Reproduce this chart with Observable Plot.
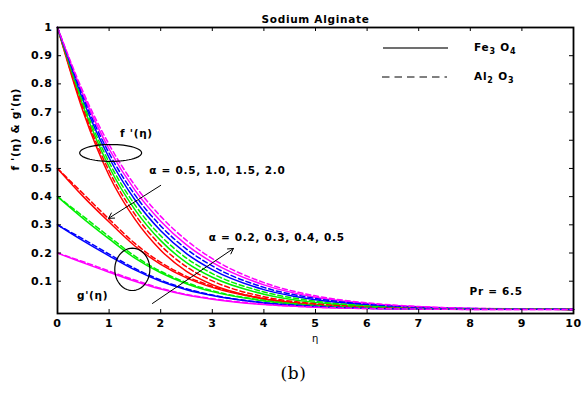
<!DOCTYPE html>
<html><head><meta charset="utf-8">
<script src="https://cdn.jsdelivr.net/npm/d3@7"></script>
<script src="https://cdn.jsdelivr.net/npm/@observablehq/plot@0.6"></script>
<style>
html,body{margin:0;padding:0;background:#fff;}
#wrap{position:relative;width:582px;height:394px;overflow:hidden;}
#overlay{position:absolute;left:0;top:0;width:582px;height:394px;pointer-events:none;}
.lg{position:absolute;font:bold 10.5px "DejaVu Sans",sans-serif;letter-spacing:0.8px;color:#000;white-space:nowrap;line-height:12px}
.lg sub{font-size:8px;vertical-align:-3px;line-height:0}
</style></head><body><div id="wrap"></div>
<script>
// η grid
const eta = [0, 0.5, 1, 1.5, 2, 2.5, 3, 4, 5, 6, 7, 8, 10];

// f'(η): solid = Fe3O4, dashed = Al2O3
const fRedFe = [1, 0.700, 0.475, 0.320, 0.210, 0.135, 0.088, 0.037, 0.015, 0.006, 0.002, 0.001, 0];
const fRedAl = [1, 0.710, 0.491, 0.337, 0.227, 0.151, 0.101, 0.045, 0.020, 0.008, 0.003, 0.001, 0];
const fGrnFe = [1, 0.720, 0.506, 0.354, 0.244, 0.166, 0.114, 0.054, 0.024, 0.011, 0.004, 0.002, 0];
const fGrnAl = [1, 0.730, 0.522, 0.371, 0.261, 0.182, 0.127, 0.062, 0.029, 0.013, 0.005, 0.002, 0];
const fBluFe = [1, 0.740, 0.538, 0.389, 0.279, 0.198, 0.141, 0.070, 0.034, 0.016, 0.006, 0.002, 0];
const fBluAl = [1, 0.750, 0.554, 0.406, 0.296, 0.214, 0.154, 0.078, 0.039, 0.018, 0.007, 0.003, 0];
const fMagFe = [1, 0.760, 0.569, 0.423, 0.313, 0.229, 0.167, 0.087, 0.043, 0.021, 0.009, 0.003, 0];
const fMagAl = [1, 0.770, 0.585, 0.440, 0.330, 0.245, 0.180, 0.095, 0.048, 0.023, 0.010, 0.004, 0];

// g'(η)
const gRedFe = [0.5, 0.400, 0.310, 0.225, 0.160, 0.112, 0.078, 0.037, 0.016, 0.007, 0.003, 0.001, 0];
const gRedAl = [0.5, 0.410, 0.320, 0.234, 0.167, 0.117, 0.082, 0.039, 0.017, 0.007, 0.003, 0.001, 0];
const gGrnFe = [0.4, 0.322, 0.250, 0.182, 0.130, 0.091, 0.063, 0.030, 0.013, 0.005, 0.002, 0.001, 0];
const gGrnAl = [0.4, 0.330, 0.258, 0.189, 0.135, 0.095, 0.066, 0.032, 0.014, 0.006, 0.002, 0.001, 0];
const gBluFe = [0.3, 0.243, 0.190, 0.140, 0.100, 0.070, 0.049, 0.023, 0.010, 0.004, 0.002, 0.001, 0];
const gBluAl = [0.3, 0.249, 0.196, 0.145, 0.104, 0.073, 0.051, 0.024, 0.011, 0.004, 0.002, 0.001, 0];
const gMagFe = [0.2, 0.165, 0.132, 0.100, 0.072, 0.051, 0.036, 0.017, 0.008, 0.003, 0.001, 0, 0];
const gMagAl = [0.2, 0.169, 0.136, 0.104, 0.075, 0.053, 0.038, 0.018, 0.008, 0.003, 0.001, 0, 0];

const colors = ["#ff0000", "#00ee00", "#0000ff", "#ff00ff"];
const xTicks = [0, 1, 2, 3, 4, 5, 6, 7, 8, 9, 10];
const yTicks = [0.1, 0.2, 0.3, 0.4, 0.5, 0.6, 0.7, 0.8, 0.9, 1];
const title = "Sodium Alginate";
const xLabel = "η";
const yLabel = "f '(η) & g'(η)";
const caption = "(b)";

// annotations (data coordinates)
const noteText = ["f '(η)", "α = 0.5, 1.0, 1.5, 2.0", "α = 0.2, 0.3, 0.4, 0.5", "g'(η)", "Pr = 6.5"];
const noteX = [1.53, 1.78, 2.93, 0.68, 8.5];
const noteY = [0.625, 0.493, 0.254, 0.049, 0.064];
const noteAnchor = ["middle", "start", "start", "middle", "middle"];
const arrowX1 = [2.0, 1.84], arrowY1 = [0.44, 0.021], arrowX2 = [0.99, 3.41], arrowY2 = [0.323, 0.216];
const ellCx = [1.03, 1.45], ellCy = [0.555, 0.142], ellRx = [0.60, 0.34], ellRy = [0.030, 0.075];

const series = [
  [fRedFe, 0, "solid"], [fRedAl, 0, "dash"], [fGrnFe, 1, "solid"], [fGrnAl, 1, "dash"],
  [fBluFe, 2, "solid"], [fBluAl, 2, "dash"], [fMagFe, 3, "solid"], [fMagAl, 3, "dash"],
  [gRedFe, 0, "solid"], [gRedAl, 0, "dash"], [gGrnFe, 1, "solid"], [gGrnAl, 1, "dash"],
  [gBluFe, 2, "solid"], [gBluAl, 2, "dash"], [gMagFe, 3, "solid"], [gMagAl, 3, "dash"]
];
const rows = [];
series.forEach(([vals, ci, style], si) => {
  vals.forEach((v, i) => rows.push({eta: eta[i], v, key: si, color: colors[ci], style}));
});
const solidRows = rows.filter(d => d.style === "solid");
const dashRows = rows.filter(d => d.style === "dash");

const ellRows = [];
ellCx.forEach((cx, k) => {
  for (let a = 0; a <= 360; a += 6) {
    const t = a * Math.PI / 180;
    ellRows.push({k, x: cx + ellRx[k] * Math.cos(t), y: ellCy[k] + ellRy[k] * Math.sin(t)});
  }
});
const notes = noteText.map((t, i) => ({t, x: noteX[i], y: noteY[i], a: noteAnchor[i]}));
const notesStart = notes.filter(d => d.a === "start");
const notesMid = notes.filter(d => d.a === "middle");
const arrows = arrowX1.map((x, i) => ({x1: x, y1: arrowY1[i], x2: arrowX2[i], y2: arrowY2[i]}));

const W = 582, H = 394, mL = 57, mR = 9, mT = 27, mB = 81;
const fw = W - mL - mR, fh = H - mT - mB, tk = 4;

const chart = Plot.plot({
  width: W, height: H,
  marginLeft: mL, marginRight: mR, marginTop: mT, marginBottom: mB,
  style: {fontFamily: "'DejaVu Sans', sans-serif", fontWeight: "bold", fontSize: "10.5px", letterSpacing: "0.7px", background: "#fff"},
  x: {domain: [0, 10]},
  y: {domain: [-0.0146, 1]},
  color: {type: "identity"},
  marks: [
    Plot.line(solidRows, {x: "eta", y: "v", z: "key", stroke: "color", strokeWidth: 1.5, curve: "monotone-x"}),
    Plot.line(dashRows, {x: "eta", y: "v", z: "key", stroke: "color", strokeWidth: 1.5, strokeDasharray: "5,3", curve: "monotone-x"}),
    Plot.line(ellRows, {x: "x", y: "y", z: "k", stroke: "black", strokeWidth: 1.2, curve: "linear"}),
    Plot.arrow(arrows, {x1: "x1", y1: "y1", x2: "x2", y2: "y2", stroke: "black", strokeWidth: 1, headLength: 9}),
    Plot.text(notesStart, {x: "x", y: "y", text: "t", textAnchor: "start", fontWeight: "bold", fontSize: 10.5}),
    Plot.text(notesMid, {x: "x", y: "y", text: "t", textAnchor: "middle", fontWeight: "bold", fontSize: 10.5}),
    Plot.frame({stroke: "black", strokeWidth: 1.8}),
    // inward ticks
    Plot.tickX(xTicks, {x: d => d, insetTop: fh - tk, stroke: "black"}),
    Plot.tickX(xTicks, {x: d => d, insetBottom: fh - tk, stroke: "black"}),
    Plot.tickY(yTicks, {y: d => d, insetRight: fw - tk, stroke: "black"}),
    Plot.tickY(yTicks, {y: d => d, insetLeft: fw - tk, stroke: "black"}),
    Plot.axisX({anchor: "bottom", ticks: xTicks, tickSize: 0, tickPadding: 6, tickFormat: d => String(d), label: null, fontSize: 11}),
    Plot.axisY({anchor: "left", ticks: yTicks, tickSize: 0, tickPadding: 5, tickFormat: d => String(d), label: null, fontSize: 11}),
    Plot.text([title], {frameAnchor: "top", dy: -12, text: d => d, fontSize: 10.5, fontWeight: "bold"}),
    Plot.text([xLabel], {frameAnchor: "bottom", dy: 28, text: d => d, fontSize: 10, fontWeight: "normal"}),
    Plot.text([yLabel], {frameAnchor: "left", dx: -42, rotate: -90, text: d => d, fontSize: 10.5, fontWeight: "bold"}),
    Plot.text([caption], {frameAnchor: "bottom", dx: -22, dy: 65, text: d => d, fontSize: 17, fontWeight: "normal", fontFamily: "'DejaVu Serif', serif", letterSpacing: "0px"})
  ]
});

const wrap = document.getElementById("wrap");
wrap.appendChild(chart);

// legend overlay
const ov = document.createElement("div");
ov.id = "overlay";
ov.innerHTML = `
<svg width="582" height="394" style="position:absolute;left:0;top:0">
  <line x1="383" x2="448" y1="48" y2="48" stroke="#707070" stroke-width="2"/>
  <line x1="382" x2="447" y1="77" y2="77" stroke="#000" stroke-width="1" stroke-dasharray="7.5,5"/>
</svg>
<div class="lg" style="left:474px;top:41px">Fe<sub>3</sub> O<sub>4</sub></div>
<div class="lg" style="left:474px;top:70px">Al<sub>2</sub> O<sub>3</sub></div>`;
wrap.appendChild(ov);
</script></body></html>
